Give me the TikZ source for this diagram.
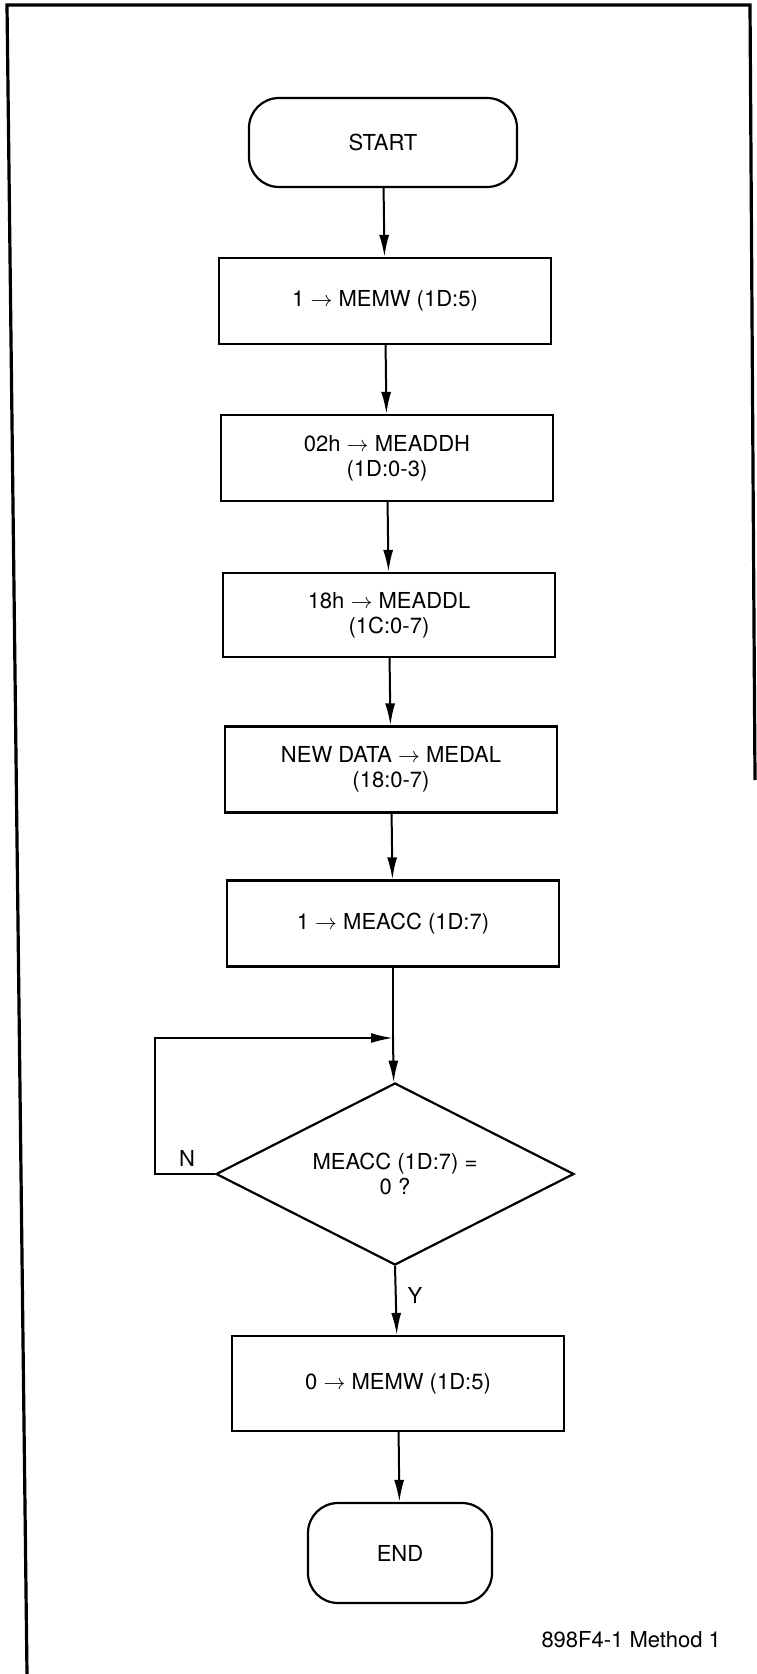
\documentclass[tikz,border=0pt]{standalone}
\usepackage{fontspec}
\setmainfont{TeX Gyre Heros}
\usepackage{tikz}
\usetikzlibrary{arrows.meta,shapes,positioning}

\begin{document}
\begin{tikzpicture}[x=0.5pt, y=-0.5pt,
    font=\fontsize{11}{12.5}\selectfont,
    >={Latex[length=11pt,width=5pt]},
    proc/.style={draw, line width=1.1pt, minimum width=166pt, minimum height=43pt, align=center, inner sep=2pt},
    term/.style={draw, line width=1.1pt, rounded corners=15pt, align=center},
    test/.style={draw, diamond, aspect=2, line width=1.1pt, minimum width=179pt, minimum height=91pt, inner sep=0pt, align=center},
    flow/.style={->, line width=1pt}]
  \useasboundingbox (0,0) rectangle (756,1674);
  % page frame
  \draw[line width=1.6pt] (27,1674) -- (7,5) -- (750,5) -- (755,780);

  \node[term, minimum width=134pt, minimum height=44.5pt] (start) at (383,142.5) {START};
  \node[proc] (memw) at (385,301) {1 $\rightarrow$ MEMW (1D:5)};
  \node[proc] (addh) at (387,458) {02h $\rightarrow$ MEADDH\\(1D:0-3)};
  \node[proc, minimum height=42pt] (addl) at (389,615) {18h $\rightarrow$ MEADDL\\(1C:0-7)};
  \node[proc] (dal) at (391,769.5) {NEW DATA $\rightarrow$ MEDAL\\(18:0-7)};
  \node[proc] (acc) at (393,923.5) {1 $\rightarrow$ MEACC (1D:7)};
  \node[test] (poll) at (395,1174) {MEACC (1D:7) =\\0 ?};
  \node[proc, minimum height=47.5pt] (clr) at (398,1383.5) {0 $\rightarrow$ MEMW (1D:5)};
  \node[term, minimum width=92pt, minimum height=50pt] (end) at (400,1553) {END};
  \node[anchor=east] (tag) at (728,1640) {898F4-1 Method 1};

  \coordinate (merge) at (393,1038);
  \coordinate (loopx) at (155,1038);

  \draw[flow] (start) -- (memw);
  \draw[flow] (memw) -- (addh);
  \draw[flow] (addh) -- (addl);
  \draw[flow] (addl) -- (dal);
  \draw[flow] (dal) -- (acc);
  \draw[line width=1pt] (acc) -- (merge);
  \draw[flow] (merge) -- (poll);
  \draw[flow] (poll.west) -| (loopx) -- (merge);
  \node (no) at (187,1158) {N};
  \draw[flow] (poll.south) -- (clr);
  \node (yes) at (415,1295) {Y};
  \draw[flow] (clr) -- (end);
\end{tikzpicture}
\end{document}
